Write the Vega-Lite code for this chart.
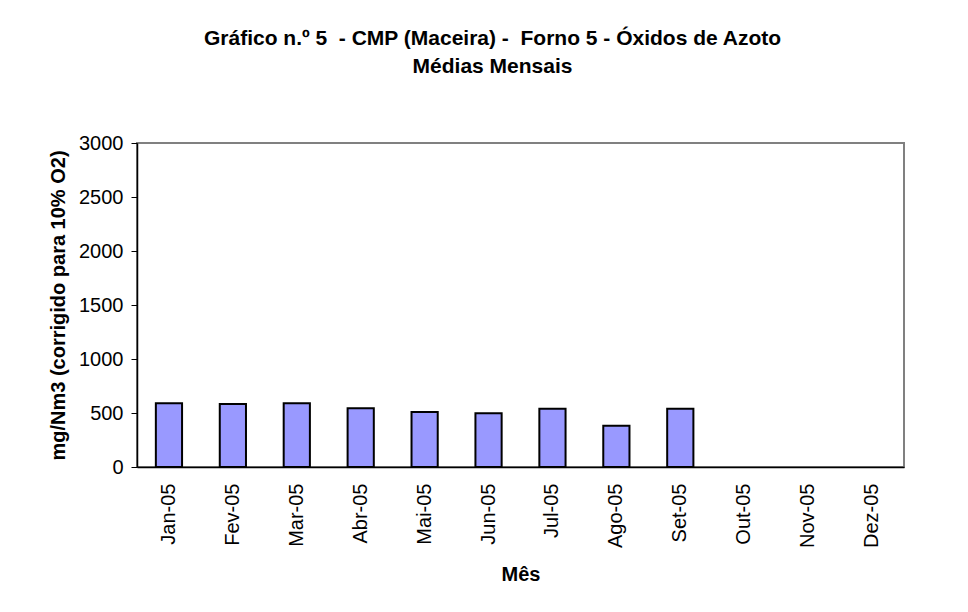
{
  "$schema": "https://vega.github.io/schema/vega-lite/v6.json",
  "width": 767,
  "height": 324,
  "autosize": {"type": "none"},
  "padding": {"left": 137, "top": 143, "right": 64, "bottom": 145},
  "background": "white",
  "title": {
    "text": ["Gráfico n.º 5 \u00a0- CMP (Maceira) - \u00a0Forno 5 - Óxidos de Azoto", "Médias Mensais"],
    "font": "Liberation Sans",
    "fontSize": 21,
    "fontWeight": "bold",
    "color": "black",
    "lineHeight": 28,
    "anchor": "middle",
    "frame": "group",
    "dx": -28,
    "offset": 56
  },
  "data": {
    "values": [
      {"mes": "Jan-05", "valor": 590},
      {"mes": "Fev-05", "valor": 583},
      {"mes": "Mar-05", "valor": 590},
      {"mes": "Abr-05", "valor": 543},
      {"mes": "Mai-05", "valor": 509},
      {"mes": "Jun-05", "valor": 497},
      {"mes": "Jul-05", "valor": 540},
      {"mes": "Ago-05", "valor": 383},
      {"mes": "Set-05", "valor": 540},
      {"mes": "Out-05", "valor": null},
      {"mes": "Nov-05", "valor": null},
      {"mes": "Dez-05", "valor": null}
    ]
  },
  "mark": {"type": "bar", "fill": "#9999FF", "stroke": "black", "strokeWidth": 2},
  "encoding": {
    "x": {
      "field": "mes",
      "type": "ordinal",
      "sort": null,
      "scale": {
        "domain": ["Jan-05", "Fev-05", "Mar-05", "Abr-05", "Mai-05", "Jun-05", "Jul-05", "Ago-05", "Set-05", "Out-05", "Nov-05", "Dez-05"],
        "paddingInner": 0.59,
        "paddingOuter": 0.295
      },
      "axis": {
        "title": "Mês",
        "labelAngle": -90,
        "labelAlign": "right",
        "labelBaseline": "middle",
        "ticks": false,
        "labelPadding": 16,
        "titlePadding": 17,
        "domainColor": "black",
        "domainWidth": 1.5
      }
    },
    "y": {
      "field": "valor",
      "type": "quantitative",
      "scale": {"domain": [0, 3000], "nice": false},
      "axis": {
        "title": "mg/Nm3 (corrigido para 10% O2)",
        "values": [0, 500, 1000, 1500, 2000, 2500, 3000],
        "format": "d",
        "grid": false,
        "tickSize": 6,
        "tickColor": "black",
        "labelPadding": 8,
        "titlePadding": 10,
        "domainColor": "black",
        "domainWidth": 1.5
      }
    }
  },
  "config": {
    "view": {"stroke": "#808080", "strokeWidth": 2},
    "axis": {
      "labelFont": "Liberation Sans",
      "labelFontSize": 20,
      "labelColor": "black",
      "titleFont": "Liberation Sans",
      "titleFontSize": 20,
      "titleFontWeight": "bold",
      "titleColor": "black"
    }
  }
}
